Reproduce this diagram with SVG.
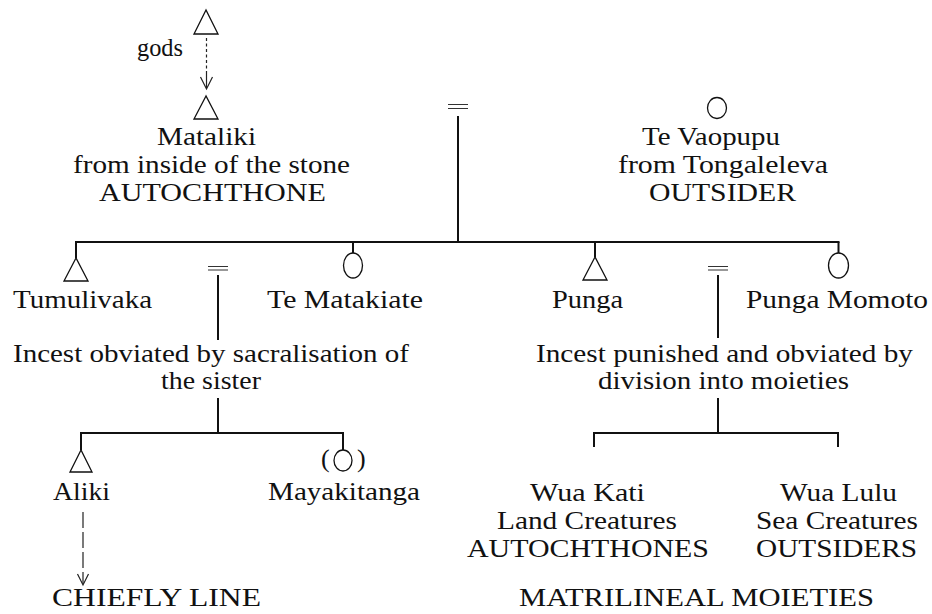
<svg xmlns="http://www.w3.org/2000/svg" width="932" height="614" viewBox="0 0 932 614">
<style>
.t{font-family:"Liberation Serif","Times New Roman",serif;font-size:26px;fill:#111}
.s{fill:none;stroke:#111;stroke-width:1.3}
.ln{fill:none;stroke:#111;stroke-width:2}
.eq{fill:none;stroke:#333;stroke-width:1}
.dash{fill:none;stroke:#222;stroke-width:1.2}
</style>
<rect width="932" height="614" fill="#fff"/>
<g id="connectors">
  <line class="dash" x1="206.5" y1="38" x2="206.5" y2="74" stroke-dasharray="3 2.5" stroke="#888"/>
  <line class="dash" x1="206.5" y1="74" x2="206.5" y2="88"/>
  <polyline class="dash" points="200.5,77 206.5,89 212.5,77"/>
  <line class="eq" x1="448" y1="104.5" x2="468" y2="104.5"/>
  <line class="eq" x1="448" y1="108.5" x2="468" y2="108.5"/>
  <line class="ln" x1="458" y1="116" x2="458" y2="242"/>
  <line class="ln" x1="75" y1="242" x2="839.5" y2="242"/>
  <line class="ln" x1="76" y1="242" x2="76" y2="258"/>
  <line class="ln" x1="353" y1="242" x2="353" y2="253"/>
  <line class="ln" x1="595" y1="242" x2="595" y2="257"/>
  <line class="ln" x1="838.5" y1="242" x2="838.5" y2="253"/>
  <line class="eq" x1="208" y1="266.5" x2="228" y2="266.5"/>
  <line class="eq" x1="208" y1="270" x2="228" y2="270"/>
  <line class="ln" x1="218" y1="275" x2="218" y2="340"/>
  <line class="ln" x1="218" y1="398" x2="218" y2="433"/>
  <line class="ln" x1="80" y1="433" x2="344" y2="433"/>
  <line class="ln" x1="81" y1="433" x2="81" y2="450"/>
  <line class="ln" x1="343" y1="433" x2="343" y2="450"/>
  <line class="eq" x1="708" y1="266.5" x2="728" y2="266.5"/>
  <line class="eq" x1="708" y1="270" x2="728" y2="270"/>
  <line class="ln" x1="718" y1="275" x2="718" y2="338"/>
  <line class="ln" x1="718" y1="398" x2="718" y2="433"/>
  <line class="ln" x1="593" y1="433" x2="839" y2="433"/>
  <line class="ln" x1="594" y1="433" x2="594" y2="447"/>
  <line class="ln" x1="838" y1="433" x2="838" y2="447"/>
  <line class="dash" x1="83" y1="512" x2="83" y2="584" stroke-dasharray="16 4"/>
  <polyline class="dash" points="77.5,574 83,585 88.5,574"/>
</g>
<g id="gods">
  <polygon class="s" points="206,10 194,34 218,34"/>
  <text class="t" x="137" y="56" textLength="46" lengthAdjust="spacingAndGlyphs">gods</text>
</g>
<g id="mataliki">
  <polygon class="s" points="206,96 194,119 218,119"/>
  <text class="t" x="157" y="145" textLength="99" lengthAdjust="spacingAndGlyphs">Mataliki</text>
  <text class="t" x="73" y="173" textLength="277" lengthAdjust="spacingAndGlyphs">from inside of the stone</text>
  <text class="t" x="99" y="201" textLength="227" lengthAdjust="spacingAndGlyphs">AUTOCHTHONE</text>
</g>
<g id="te-vaopupu">
  <ellipse class="s" cx="717" cy="108" rx="9.5" ry="10.5"/>
  <text class="t" x="642" y="145" textLength="138" lengthAdjust="spacingAndGlyphs">Te Vaopupu</text>
  <text class="t" x="618" y="173" textLength="210" lengthAdjust="spacingAndGlyphs">from Tongaleleva</text>
  <text class="t" x="649" y="201" textLength="147" lengthAdjust="spacingAndGlyphs">OUTSIDER</text>
</g>
<g id="tumulivaka">
  <polygon class="s" points="76,258 64,281 88,281"/>
  <text class="t" x="13" y="308" textLength="139" lengthAdjust="spacingAndGlyphs">Tumulivaka</text>
</g>
<g id="te-matakiate">
  <ellipse class="s" cx="353" cy="265.5" rx="9.5" ry="12.5"/>
  <text class="t" x="267" y="308" textLength="156" lengthAdjust="spacingAndGlyphs">Te Matakiate</text>
</g>
<g id="punga">
  <polygon class="s" points="595,257 583,280 607,280"/>
  <text class="t" x="552" y="308" textLength="71" lengthAdjust="spacingAndGlyphs">Punga</text>
</g>
<g id="punga-momoto">
  <ellipse class="s" cx="838.5" cy="265.5" rx="10" ry="12.5"/>
  <text class="t" x="746" y="308" textLength="182" lengthAdjust="spacingAndGlyphs">Punga Momoto</text>
</g>
<g id="left-union">
  <text class="t" x="13" y="362" textLength="396" lengthAdjust="spacingAndGlyphs">Incest obviated by sacralisation of</text>
  <text class="t" x="161" y="389" textLength="100" lengthAdjust="spacingAndGlyphs">the sister</text>
</g>
<g id="right-union">
  <text class="t" x="536" y="362" textLength="377" lengthAdjust="spacingAndGlyphs">Incest punished and obviated by</text>
  <text class="t" x="598" y="389" textLength="251" lengthAdjust="spacingAndGlyphs">division into moieties</text>
</g>
<g id="aliki">
  <polygon class="s" points="81,450 70,472 92,472"/>
  <text class="t" x="53" y="500" textLength="57" lengthAdjust="spacingAndGlyphs">Aliki</text>
</g>
<g id="mayakitanga">
  <ellipse class="s" cx="343" cy="460.5" rx="9" ry="10.5"/>
  <text class="t" x="321" y="467">(</text>
  <text class="t" x="357" y="467">)</text>
  <text class="t" x="268" y="500" textLength="152" lengthAdjust="spacingAndGlyphs">Mayakitanga</text>
</g>
<g id="wua-kati">
  <text class="t" x="530" y="501" textLength="115" lengthAdjust="spacingAndGlyphs">Wua Kati</text>
  <text class="t" x="497" y="529" textLength="180" lengthAdjust="spacingAndGlyphs">Land Creatures</text>
  <text class="t" x="467" y="557" textLength="242" lengthAdjust="spacingAndGlyphs">AUTOCHTHONES</text>
</g>
<g id="wua-lulu">
  <text class="t" x="780" y="501" textLength="117" lengthAdjust="spacingAndGlyphs">Wua Lulu</text>
  <text class="t" x="756" y="529" textLength="162" lengthAdjust="spacingAndGlyphs">Sea Creatures</text>
  <text class="t" x="756" y="557" textLength="161" lengthAdjust="spacingAndGlyphs">OUTSIDERS</text>
</g>
<g id="chiefly-line">
  <text class="t" x="52" y="606" textLength="209" lengthAdjust="spacingAndGlyphs">CHIEFLY LINE</text>
</g>
<g id="matrilineal-moieties">
  <text class="t" x="519" y="606" textLength="355" lengthAdjust="spacingAndGlyphs">MATRILINEAL MOIETIES</text>
</g>
</svg>
